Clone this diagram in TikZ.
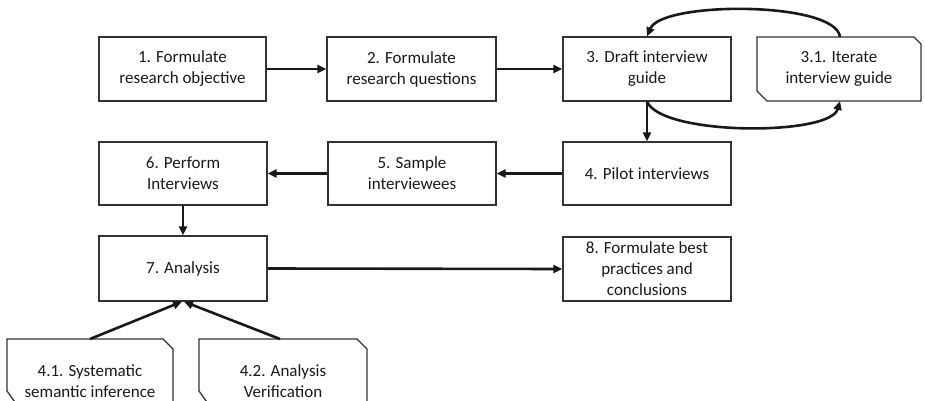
\documentclass[tikz,border=0pt]{standalone}
\usepackage{fontspec}
\setmainfont{Carlito}
\usetikzlibrary{arrows.meta,calc}
\begin{document}
\begin{tikzpicture}[x=1pt,y=-1pt,
  box/.style={draw=black!80, line width=1.3pt, minimum height=64pt, align=center,
    font=\fontsize{17}{21}\selectfont, text=black!90, inner sep=0pt},
  txt/.style={align=center, font=\fontsize{17}{21}\selectfont, text=black!90, inner sep=0pt},
  outl/.style={draw=black!80, line width=1.3pt},
  arr/.style={line width=2.6pt, black!90, -{Triangle[length=9pt,width=8pt]}}]
\useasboundingbox (0,0) rectangle (925,401);
% boxes
\node[box, minimum width=167pt] (n1) at (182.5,69) {1. Formulate\\research objective};
\node[box, minimum width=169pt] (n2) at (411.5,69) {2. Formulate\\research questions};
\node[box, minimum width=168pt] (n3) at (647,69) {3. Draft interview\\guide};
\node[txt] (n31) at (839,69) {3.1. Iterate\\interview guide};
\node[box, minimum width=168pt, minimum height=63pt] (n4) at (647,173.5) {4. Pilot interviews};
\node[box, minimum width=168pt, minimum height=63pt] (n5) at (412,173.5) {5. Sample\\interviewees};
\node[box, minimum width=168pt, minimum height=63pt] (n6) at (183,173.5) {6. Perform\\Interviews};
\node[box, minimum width=168pt, minimum height=65pt] (n7) at (183,268.5) {7. Analysis};
\node[box, minimum width=168pt, minimum height=64pt] (n8) at (647,269) {8. Formulate best\\practices and\\conclusions};
\node[txt] (n41) at (90,381) {4.1. Systematic\\semantic inference};
\node[txt] (n42) at (283,381) {4.2. Analysis\\Verification};
% cut-corner outlines
\draw[outl] ($(n31.center)+(-82,-32)$) -- ($(n31.center)+(75,-32)$) -- ($(n31.center)+(82,-25)$)
  -- ($(n31.center)+(82,32)$) -- ($(n31.center)+(-72,32)$) -- ($(n31.center)+(-82,22)$) -- cycle;
\draw[outl] ($(n41.center)+(-83,-42)$) -- ($(n41.center)+(73,-42)$) -- ($(n41.center)+(83,-32)$)
  -- ($(n41.center)+(83,24)$) -- ($(n41.center)+(-73,24)$) -- ($(n41.center)+(-83,10)$) -- cycle;
\draw[outl] ($(n42.center)+(-84,-42)$) -- ($(n42.center)+(74,-42)$) -- ($(n42.center)+(84,-32)$)
  -- ($(n42.center)+(84,24)$) -- ($(n42.center)+(-74,24)$) -- ($(n42.center)+(-84,10)$) -- cycle;
\coordinate (t31) at (840,37);
\coordinate (b31) at (840,101);
\coordinate (t41) at (90,339);
\coordinate (t42) at (280,339);
% connectors
\draw[arr] (n1.east) -- (n2.west);
\draw[arr] (n2.east) -- (n3.west);
\draw[arr] (t31) .. controls (836,1) and (662,1) .. (n3.north);
\draw[arr] (n3.south) .. controls (662,136) and (830,136) .. (b31);
\draw[arr] (n3.south) -- (n4.north);
\draw[arr] (n4.west) -- (n5.east);
\draw[arr] (n5.west) -- (n6.east);
\draw[arr] (n6.south) -- (n7.north);
\draw[arr] (n7.east) -- (n8.west);
\draw[arr] (t41) -- ([xshift=-1pt]n7.south);
\draw[arr] (t42) -- ([xshift=1pt]n7.south);
\end{tikzpicture}
\end{document}
